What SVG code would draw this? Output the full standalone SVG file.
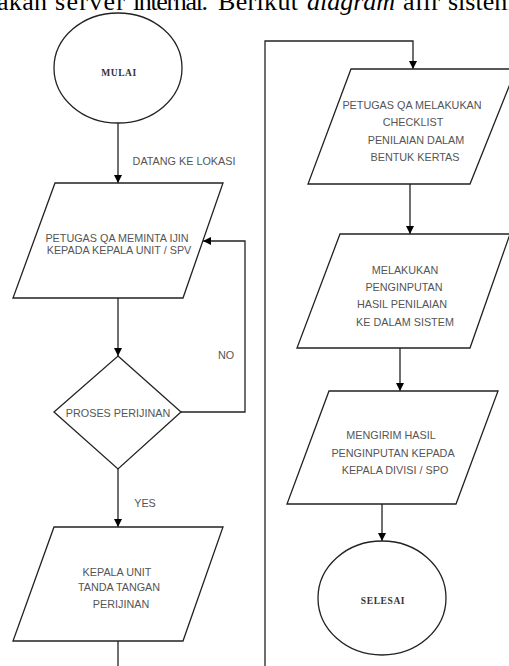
<svg xmlns="http://www.w3.org/2000/svg" width="509" height="666" viewBox="0 0 509 666">
<defs>
<marker id="ah" viewBox="0 0 10 10" refX="10" refY="5" markerWidth="8" markerHeight="9" markerUnits="userSpaceOnUse" orient="auto">
<path d="M0,0 L10,5 L0,10 z" fill="#000"/>
</marker>
</defs>
<style>
.shape{fill:#fff;stroke:#222;stroke-width:1.3}
.conn{fill:none;stroke:#222;stroke-width:1.3}
.lbl{font-family:"Liberation Sans",Arial,sans-serif;font-size:10.8px;fill:#555;text-anchor:middle}
.term{font-family:"Liberation Serif","Times New Roman",serif;font-size:9.5px;font-weight:bold;fill:#333;text-anchor:middle;letter-spacing:0.6px}
.body{font-family:"Liberation Serif","Times New Roman",serif;font-size:26px;fill:#000}
</style>
<rect width="509" height="666" fill="#fff"/>
<text class="body" y="10"><tspan x="-3" textLength="50">akan</tspan><tspan x="55" textLength="70">server</tspan><tspan x="133" textLength="75">internal.</tspan><tspan x="218" textLength="80">Berikut</tspan><tspan x="307" font-style="italic" textLength="88">diagram</tspan><tspan x="403" textLength="37">alir</tspan><tspan x="448">sistem</tspan></text>

<g id="connectors">
<path class="conn" d="M118,123 V183" marker-end="url(#ah)"/>
<path class="conn" d="M118,298 V356" marker-end="url(#ah)"/>
<path class="conn" d="M181,412 H245 V241 H203" marker-end="url(#ah)"/>
<path class="conn" d="M118,469 V527" marker-end="url(#ah)"/>
<path class="conn" d="M118,641 V666"/>
<path class="conn" d="M265,666 V41 H413 V69" marker-end="url(#ah)"/>
<path class="conn" d="M410,184 V234" marker-end="url(#ah)"/>
<path class="conn" d="M400,348 V391" marker-end="url(#ah)"/>
<path class="conn" d="M382,504 V541" marker-end="url(#ah)"/>
<text class="lbl" x="184" y="165" font-size="11">DATANG KE LOKASI</text>
<text class="lbl" x="226" y="359">NO</text>
<text class="lbl" x="145" y="507">YES</text>
</g>

<g id="mulai">
<ellipse class="shape" cx="118" cy="68" rx="64" ry="55"/>
<text class="term" x="119" y="76">MULAI</text>
</g>

<g id="minta-ijin">
<polygon class="shape" points="55,183 223,183 183,298 13,298"/>
<text class="lbl" x="117" y="242">PETUGAS QA MEMINTA IJIN</text>
<text class="lbl" x="119" y="254">KEPADA KEPALA UNIT / SPV</text>
</g>

<g id="proses-perijinan">
<polygon class="shape" points="118,356 181,412 118,469 54,412"/>
<text class="lbl" x="118" y="417">PROSES PERIJINAN</text>
</g>

<g id="tanda-tangan">
<polygon class="shape" points="54,527 223,527 183,641 13,641"/>
<text class="lbl" x="117" y="576">KEPALA UNIT</text>
<text class="lbl" x="119" y="591">TANDA TANGAN</text>
<text class="lbl" x="121" y="608">PERIJINAN</text>
</g>

<g id="checklist">
<polygon class="shape" points="351,69 516,69 470,184 308,184"/>
<text class="lbl" x="412" y="109">PETUGAS QA MELAKUKAN</text>
<text class="lbl" x="413" y="126">CHECKLIST</text>
<text class="lbl" x="416" y="144">PENILAIAN DALAM</text>
<text class="lbl" x="415" y="161">BENTUK KERTAS</text>
</g>

<g id="penginputan">
<polygon class="shape" points="340,234 510,234 470,348 297,348"/>
<text class="lbl" x="405" y="274">MELAKUKAN</text>
<text class="lbl" x="404" y="291">PENGINPUTAN</text>
<text class="lbl" x="402" y="308">HASIL PENILAIAN</text>
<text class="lbl" x="405" y="326">KE DALAM SISTEM</text>
</g>

<g id="mengirim">
<polygon class="shape" points="329,391 498,391 456,504 287,504"/>
<text class="lbl" x="391" y="439">MENGIRIM HASIL</text>
<text class="lbl" x="393" y="457">PENGINPUTAN KEPADA</text>
<text class="lbl" x="395" y="474">KEPALA DIVISI / SPO</text>
</g>

<g id="selesai">
<ellipse class="shape" cx="382" cy="598" rx="64" ry="57"/>
<text class="term" x="383" y="604">SELESAI</text>
</g>
</svg>
